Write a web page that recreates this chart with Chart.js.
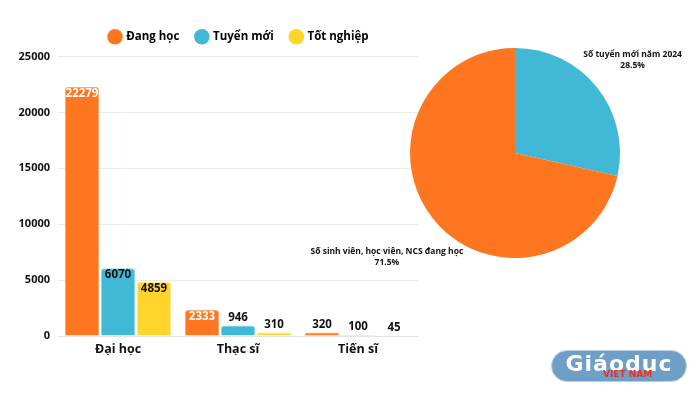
<!DOCTYPE html>
<html><head><meta charset="utf-8">
<script src="https://cdn.jsdelivr.net/npm/chart.js@4/dist/chart.umd.min.js"></script>
<style>
html,body{margin:0;padding:0;background:#fff;width:700px;height:394px;overflow:hidden;font-family:"Open Sans",sans-serif}
#bar{position:absolute;left:0;top:0}
#pie{position:absolute;left:280px;top:0}
#logo{position:absolute;left:551px;top:350px;width:136px;height:32px;border-radius:17px;background:#6f9fc6;border:1px solid #b9d0e3;box-sizing:border-box;color:#fff;font-family:"DejaVu Sans",sans-serif;font-weight:bold;font-size:22px;line-height:26px;text-align:center;letter-spacing:1px}
#logo span{position:absolute;left:51px;top:18px;font-size:9px;line-height:10px;color:#e0342b;letter-spacing:0}
</style></head><body>
<canvas id="bar" width="430" height="394"></canvas>
<canvas id="pie" width="420" height="394"></canvas>
<div id="logo">Giáoduc<span>VIET NAM</span></div>
<script>
const categories = ["Đại học", "Thạc sĩ", "Tiến sĩ"];
const seriesNames = ["Đang học", "Tuyển mới", "Tốt nghiệp"];
const dangHoc = [22279, 2333, 320];
const tuyenMoi = [6070, 946, 100];
const totNghiep = [4859, 310, 45];
const yTicks = [0, 5000, 10000, 15000, 20000, 25000];
const pieLabels = ["Số tuyển mới năm 2024", "Số sinh viên, học viên, NCS đang học"];
const pieValues = [28.5, 71.5];

const ORANGE = "#ff7621", BLUE = "#41b8d6", YELLOW = "#ffd52c";
const FONT = "'Open Sans', sans-serif";

const barLabels = {
  id: "barLabels",
  afterInit(chart) {
    const lg = chart.legend;
    if (lg) {
      const fit = lg.fit.bind(lg);
      lg.fit = function () { fit(); this.height += 4; };
      const draw = lg.draw.bind(lg);
      lg.draw = function (a) { const c = chart.ctx; c.save(); c.translate(30, 0); draw(a); c.restore(); };
    }
  },
  afterDatasetsDraw(chart) {
    const ctx = chart.ctx;
    ctx.save();
    ctx.font = "bold 11.5px " + FONT;
    ctx.textAlign = "center";
    chart.data.datasets.forEach((ds, di) => {
      chart.getDatasetMeta(di).data.forEach((bar, i) => {
        const v = ds.data[i];
        const h = bar.base - bar.y;
        if (h > 22) {
          ctx.fillStyle = di === 0 ? "#fff" : "#111";
          ctx.textBaseline = "top";
          ctx.fillText(String(v), bar.x, bar.y + 1);
        } else {
          ctx.fillStyle = "#111";
          ctx.textBaseline = "bottom";
          ctx.fillText(String(v), bar.x, bar.y - 2);
        }
      });
    });
    ctx.restore();
  }
};

const borders = ["#ffa366", "#8ad6ea", "#ffe78a"];
new Chart(document.getElementById("bar"), {
  type: "bar",
  data: {
    labels: categories,
    datasets: [
      {label: seriesNames[0], data: dangHoc, backgroundColor: ORANGE, borderColor: borders[0]},
      {label: seriesNames[1], data: tuyenMoi, backgroundColor: BLUE, borderColor: borders[1]},
      {label: seriesNames[2], data: totNghiep, backgroundColor: YELLOW, borderColor: borders[2]}
    ].map(d => Object.assign(d, {borderWidth: 1, borderRadius: 3, borderSkipped: "bottom", categoryPercentage: 0.9, barPercentage: 0.95}))
  },
  options: {
    responsive: false, animation: false, devicePixelRatio: 1,
    layout: {padding: {top: 14, right: 12, bottom: 39, left: 0}},
    plugins: {
      legend: {
        position: "top",
        labels: {usePointStyle: true, pointStyle: "circle", boxWidth: 11, boxHeight: 11, padding: 17, color: "#222",
          font: {family: FONT, size: 11.5, weight: "bold"},
          generateLabels: ch => ch.data.datasets.map((d, i) => ({text: d.label, fillStyle: d.backgroundColor, strokeStyle: d.backgroundColor, lineWidth: 0, pointStyle: "circle", datasetIndex: i, hidden: false}))
        }
      },
      tooltip: {enabled: false}
    },
    scales: {
      x: {
        grid: {display: false},
        border: {color: "#e3e3e3"},
        ticks: {color: "#111", padding: -2, font: {family: FONT, size: 12.5, weight: "bold"}}
      },
      y: {
        min: 0, max: 25000,
        afterBuildTicks: s => { s.ticks = yTicks.map(v => ({value: v})); },
        afterFit: s => { s.width = 58; },
        grid: {color: "#ececec", drawTicks: false},
        border: {display: false},
        ticks: {color: "#111", padding: 8, callback: v => String(v), font: {family: FONT, size: 11, weight: "bold"}}
      }
    }
  },
  plugins: [barLabels]
});

const pieText = {
  id: "pieText",
  afterDatasetsDraw(chart) {
    const ctx = chart.ctx;
    const arc = chart.getDatasetMeta(0).data[0];
    const cx = arc.x, cy = arc.y, r = arc.outerRadius;
    const offs = [[1.12, -0.94], [-1.22, 0.94]];
    ctx.save();
    ctx.font = "bold 8.5px " + FONT;
    ctx.fillStyle = "#111";
    ctx.textAlign = "center";
    ctx.textBaseline = "middle";
    chart.data.labels.forEach((lab, i) => {
      const x = cx + offs[i][0] * r, y = cy + offs[i][1] * r;
      ctx.fillText(lab, x, y);
      ctx.fillText(pieValues[i].toFixed(1) + "%", x, y + 11);
    });
    ctx.restore();
  }
};

new Chart(document.getElementById("pie"), {
  type: "pie",
  data: {
    labels: pieLabels,
    datasets: [{data: pieValues, backgroundColor: [BLUE, ORANGE], borderWidth: 0}]
  },
  options: {
    responsive: false, animation: false, devicePixelRatio: 1,
    layout: {padding: {left: 130, right: 80, top: 48, bottom: 136}},
    plugins: {legend: {display: false}, tooltip: {enabled: false}}
  },
  plugins: [pieText]
});
</script>
</body></html>
